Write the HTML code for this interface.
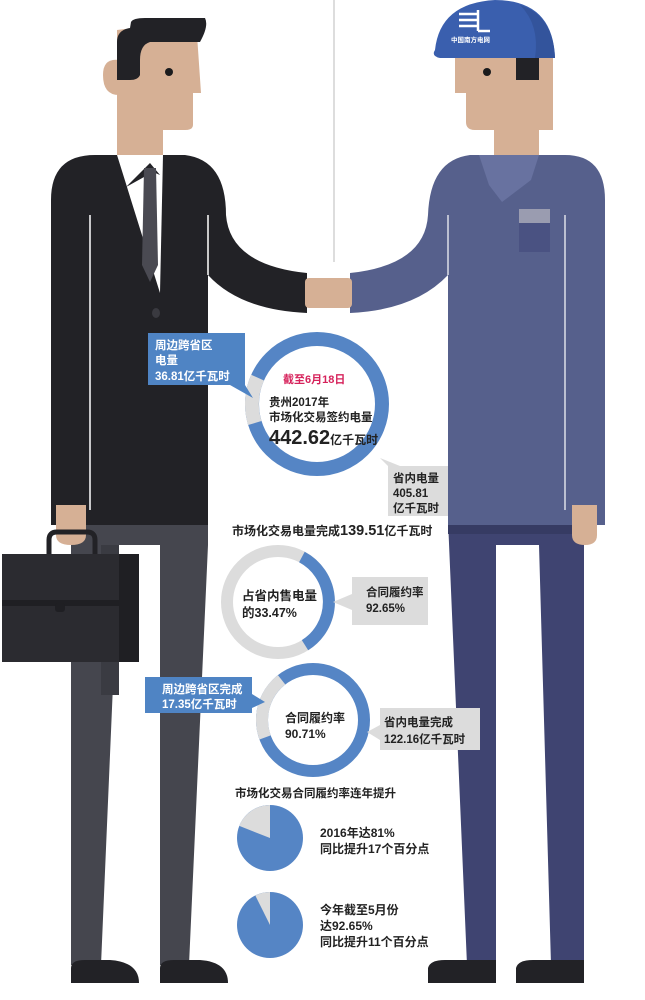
<!DOCTYPE html>
<html><head><meta charset="utf-8"><style>
html,body{margin:0;padding:0;background:#fff}
svg{display:block}
text{font-family:"Liberation Sans","Noto Sans CJK SC",sans-serif;font-weight:bold}
</style></head><body>
<svg width="645" height="1000" viewBox="0 0 645 1000" xmlns="http://www.w3.org/2000/svg">
<rect width="645" height="1000" fill="#fff"/>
<line x1="334" y1="0" x2="334" y2="262" stroke="#bbb" stroke-width="1"/>

<!-- Businessman -->
<!-- pants -->
<path d="M71,520 L208,520 L208,545 L189,965 L160,965 L160,545 L119,545 L101,965 L71,965 Z" fill="#45464e"/>
<rect x="101" y="545" width="18" height="150" fill="#3a3b42"/>
<path d="M71,983 L71,968 Q71,960 85,960 L110,960 Q139,962 139,983 Z" fill="#222226"/>
<path d="M160,983 L160,968 Q160,960 174,960 L200,960 Q228,962 228,983 Z" fill="#222226"/>
<!-- neck/head -->
<rect x="117" y="110" width="46" height="50" fill="#d6b095"/>
<path d="M117,30 L196,20 L201,93 L193,93 L193,125 Q193,130 185,130 L117,130 Z" fill="#d6b095"/>
<path d="M119,60 Q103,58 103,75 Q103,95 119,95 Z" fill="#d6b095"/>
<path d="M117,80 L117,42 Q117,30 130,28 L131,22 Q133,18 145,18 L205,18 Q209,26 200,42 L150,42 Q140,45 140,60 L140,75 Q138,80 130,80 Z" fill="#222226"/>
<circle cx="169" cy="72" r="4" fill="#1b1b1d"/>
<!-- jacket -->
<path d="M51,525 L51,200 Q51,155 95,155 L185,155 Q226,160 226,215 Q230,265 307,273 L307,313 Q240,310 208,275 L208,525 Z" fill="#222226"/>
<polygon points="117,155 163,155 160,293" fill="#fff"/>
<polygon points="126,187 150,163 160,175 153,172" fill="#222226"/>
<polygon points="144,168 156,168 158,265 150,282 142,265" fill="#4a4a52"/>
<line x1="90" y1="215" x2="90" y2="510" stroke="#fff" stroke-width="1.5"/>
<line x1="208" y1="215" x2="208" y2="275" stroke="#fff" stroke-width="1.5"/>
<ellipse cx="156" cy="313" rx="4" ry="5" fill="#3a3a40"/>
<!-- left hand + briefcase -->
<path d="M56,505 L86,505 L86,535 Q86,545 71,545 Q56,545 56,535 Z" fill="#d6b095"/>
<path d="M49,568 L49,540 Q49,532 57,532 L87,532 Q95,532 95,540 L95,568" fill="none" stroke="#222226" stroke-width="5"/>
<rect x="2" y="554" width="137" height="108" fill="#2b2b30"/>
<rect x="119" y="554" width="20" height="108" fill="#1f1f23"/>
<rect x="2" y="600" width="117" height="6" fill="#1f1f23"/>
<rect x="55" y="603" width="10" height="9" rx="3" fill="#1f1f23"/>

<!-- Worker -->
<path d="M448,520 L584,520 L584,545 L584,965 L551,965 L539,545 L496,545 L496,965 L467,965 Z" fill="#3f4471"/>
<rect x="448" y="525" width="136" height="9" fill="#363b63"/>
<path d="M428,983 L428,968 Q430,960 445,960 L496,960 L496,983 Z" fill="#222226"/>
<path d="M516,983 L516,968 Q518,960 533,960 L584,960 L584,983 Z" fill="#222226"/>
<rect x="494" y="110" width="45" height="50" fill="#d6b095"/>
<path d="M455,58 L553,58 L553,130 L475,130 Q466,130 466,122 L466,93 L455,93 Z" fill="#d6b095"/>
<path d="M537,62 Q553,62 553,78 Q553,95 537,95 Z" fill="#d6b095"/>
<rect x="516" y="58" width="23" height="22" fill="#222226"/>
<circle cx="487" cy="72" r="4" fill="#1b1b1d"/>
<path d="M435,50 Q440,3 495,0 Q553,0 555,58 L440,58 Q431,56 435,50 Z" fill="#3a5fae"/>
<path d="M520,5 Q553,15 555,58 L535,58 Q540,25 520,5Z" fill="#33549c"/>
<g stroke="#fff" stroke-width="2.5"><line x1="459" y1="14" x2="478" y2="14"/><line x1="459" y1="20" x2="478" y2="20"/><line x1="459" y1="26" x2="478" y2="26"/><line x1="478" y1="10" x2="478" y2="31"/><line x1="478" y1="31" x2="490" y2="31"/></g>
<text x="451" y="42" font-size="6.5" fill="#fff">中国南方电网</text>
<path d="M605,525 L605,200 Q605,155 565,155 L470,155 Q430,160 428,215 Q425,265 350,273 L350,313 Q415,310 448,275 L448,525 Z" fill="#56608c"/>
<polygon points="479,155 539,155 531,180 502,202 489,185" fill="#6872a0"/>
<rect x="519" y="209" width="31" height="14" fill="#9a9cb0"/>
<rect x="519" y="223" width="31" height="29" fill="#4a5282"/>
<line x1="448" y1="215" x2="448" y2="275" stroke="#fff" stroke-width="1.2"/>
<line x1="565" y1="215" x2="565" y2="510" stroke="#fff" stroke-width="1.2"/>
<path d="M572,505 L597,505 L597,535 Q597,545 585,545 Q572,545 572,535 Z" fill="#d6b095"/>
<!-- hands -->
<rect x="305" y="278" width="47" height="30" rx="4" fill="#d6b095"/>

<!-- Ring 1 -->
<circle cx="317" cy="404" r="74" fill="#fff"/>
<circle cx="317" cy="404" r="65" fill="none" stroke="#5585c5" stroke-width="14"/>
<path d="M254.8,423 A65,65 0 0 1 257.6,377.6" fill="none" stroke="#dcdcdc" stroke-width="14"/>
<text x="283" y="383" font-size="11" fill="#d6225b">截至6月18日</text>
<text x="269" y="406" font-size="11.5" fill="#222">贵州2017年</text>
<text x="269" y="421" font-size="11.5" fill="#222">市场化交易签约电量</text>
<text x="269" y="444" font-size="20" fill="#222">442.62<tspan font-size="12">亿千瓦时</tspan></text>
<!-- blue callout 1 -->
<rect x="148" y="333" width="97" height="52" fill="#4f84c4"/>
<polygon points="230,385 245,385 253,398" fill="#4f84c4"/>
<text x="155" y="349" font-size="11.5" fill="#fff">周边跨省区</text>
<text x="155" y="364" font-size="11.5" fill="#fff">电量</text>
<text x="155" y="380" font-size="11.5" fill="#fff">36.81亿千瓦时</text>
<!-- gray callout 1 -->
<rect x="388" y="466" width="60" height="50" fill="#dcdcdc"/>
<polygon points="388,466 400,466 380,458" fill="#dcdcdc"/>
<text x="393" y="482" font-size="11.5" fill="#222">省内电量</text>
<text x="393" y="497" font-size="11.5" fill="#222">405.81</text>
<text x="393" y="512" font-size="11.5" fill="#222">亿千瓦时</text>
<text x="232" y="535" font-size="12" fill="#222">市场化交易电量完成<tspan font-size="14.5">139.51</tspan>亿千瓦时</text>

<!-- Ring 2 -->
<circle cx="278" cy="602" r="58" fill="#fff"/>
<circle cx="278" cy="602" r="51" fill="none" stroke="#dcdcdc" stroke-width="12"/>
<path d="M301.9,557 A51,51 0 0 1 305,645.2" fill="none" stroke="#5585c5" stroke-width="12"/>
<text x="242" y="600" font-size="12.5" fill="#222">占省内售电量</text>
<text x="242" y="617" font-size="12.5" fill="#222">的33.47%</text>
<rect x="352" y="577" width="76" height="48" fill="#dcdcdc"/>
<polygon points="352,594 352,610 333,602" fill="#dcdcdc"/>
<text x="366" y="596" font-size="11.5" fill="#222">合同履约率</text>
<text x="366" y="612" font-size="11.5" fill="#222">92.65%</text>

<!-- Ring 3 -->
<circle cx="313" cy="720" r="58" fill="#fff"/>
<circle cx="313" cy="720" r="51" fill="none" stroke="#5585c5" stroke-width="12"/>
<path d="M265.1,737.4 A51,51 0 0 1 281.6,679.8" fill="none" stroke="#dcdcdc" stroke-width="12"/>
<text x="285" y="722" font-size="12" fill="#222">合同履约率</text>
<text x="285" y="738" font-size="12" fill="#222">90.71%</text>
<rect x="145" y="677" width="107" height="36" fill="#4f84c4"/>
<polygon points="252,694 252,708 265,702" fill="#4f84c4"/>
<text x="162" y="693" font-size="11.5" fill="#fff">周边跨省区完成</text>
<text x="162" y="708" font-size="11.5" fill="#fff">17.35亿千瓦时</text>
<rect x="380" y="708" width="100" height="42" fill="#dcdcdc"/>
<polygon points="380,725 380,740 367,732" fill="#dcdcdc"/>
<text x="384" y="726" font-size="11.5" fill="#222">省内电量完成</text>
<text x="384" y="743" font-size="11.5" fill="#222">122.16亿千瓦时</text>

<!-- Pies -->
<text x="235" y="797" font-size="11.5" fill="#222">市场化交易合同履约率连年提升</text>
<circle cx="270" cy="838" r="33" fill="#5585c5"/>
<path d="M270,838 L270,805 A33,33 0 0 0 239.3,825.9 Z" fill="#dcdcdc"/>
<text x="320" y="837" font-size="12" fill="#222">2016年达81%</text>
<text x="320" y="853" font-size="12" fill="#222">同比提升17个百分点</text>
<circle cx="270" cy="925" r="33" fill="#5585c5"/>
<path d="M270,925 L270,892 A33,33 0 0 0 255.3,895.5 Z" fill="#dcdcdc"/>
<text x="320" y="914" font-size="12" fill="#222">今年截至5月份</text>
<text x="320" y="930" font-size="12" fill="#222">达92.65%</text>
<text x="320" y="946" font-size="12" fill="#222">同比提升11个百分点</text>
</svg>
</body></html>
